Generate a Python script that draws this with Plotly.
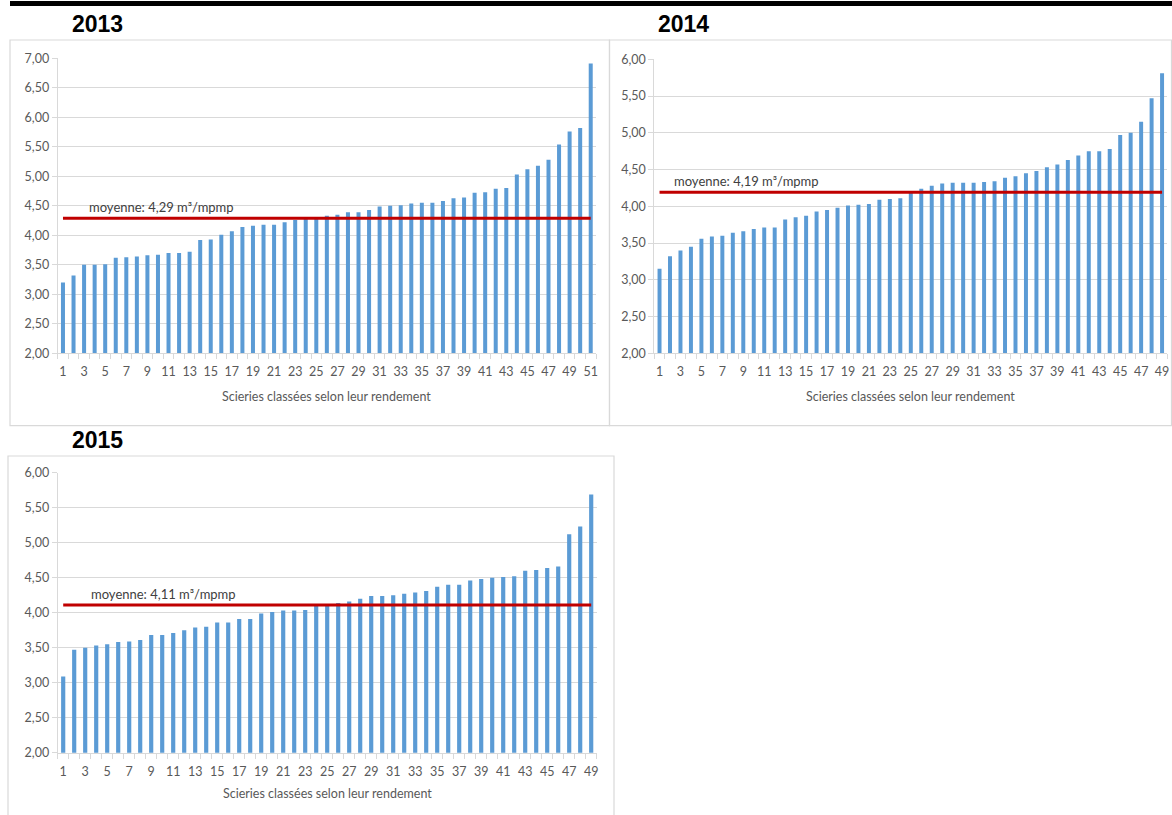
import plotly.graph_objects as go

# ---- data ----
years = ["2013", "2014", "2015"]
means = [4.29, 4.19, 4.11]
mean_labels = ["moyenne: 4,29 m³/mpmp", "moyenne: 4,19 m³/mpmp", "moyenne: 4,11 m³/mpmp"]

values_2013 = [3.20, 3.32, 3.50, 3.50, 3.51, 3.62, 3.63, 3.64, 3.66, 3.67,
               3.70, 3.70, 3.72, 3.92, 3.93, 4.01, 4.07, 4.14, 4.16, 4.18,
               4.18, 4.22, 4.26, 4.28, 4.29, 4.33, 4.35, 4.39, 4.39, 4.43,
               4.49, 4.50, 4.51, 4.54, 4.55, 4.55, 4.58, 4.63, 4.64, 4.72,
               4.73, 4.79, 4.80, 5.03, 5.12, 5.18, 5.28, 5.54, 5.76, 5.82,
               6.91]
values_2014 = [3.15, 3.32, 3.40, 3.45, 3.56, 3.59, 3.60, 3.64, 3.66, 3.69,
               3.71, 3.71, 3.82, 3.85, 3.87, 3.93, 3.95, 3.98, 4.01, 4.02,
               4.03, 4.09, 4.10, 4.11, 4.19, 4.24, 4.28, 4.31, 4.32, 4.32,
               4.32, 4.33, 4.34, 4.39, 4.41, 4.45, 4.48, 4.53, 4.57, 4.63,
               4.69, 4.75, 4.75, 4.78, 4.97, 5.00, 5.15, 5.47, 5.81]
values_2015 = [3.09, 3.47, 3.50, 3.53, 3.55, 3.58, 3.59, 3.61, 3.68, 3.68,
               3.71, 3.75, 3.79, 3.80, 3.86, 3.86, 3.91, 3.91, 3.99, 4.01,
               4.03, 4.03, 4.04, 4.10, 4.11, 4.14, 4.16, 4.20, 4.24, 4.24,
               4.25, 4.27, 4.29, 4.31, 4.37, 4.40, 4.40, 4.46, 4.48, 4.50,
               4.51, 4.52, 4.60, 4.61, 4.64, 4.66, 5.12, 5.23, 5.69]
series = [values_2013, values_2014, values_2015]
y_max = [7.0, 6.0, 6.0]
label_x = [3.25, 2.16, 3.35]
x_title = "Scieries classées selon leur rendement"

# ---- layout geometry (paper fractions) ----
W, H = 1172, 815
def px(x): return x / W
def py(y): return 1 - y / H

domains = [
    dict(x=[px(57.7), px(596.0)], y=[py(353.3), py(58.3)]),
    dict(x=[px(654.3), px(1167.3)], y=[py(353.3), py(59.3)]),
    dict(x=[px(57.7), px(596.7)], y=[py(752.7), py(472.7)]),
]
boxes = [
    (px(10), py(425.7), px(609.5), py(40)),
    (px(609.5), py(425.7), px(1171.5), py(40)),
    (px(8), py(830), px(614), py(456)),
]
title_pos = [(px(97), py(24)), (px(683), py(24)), (px(97), py(440))]
xtitle_y = [py(396), py(396), py(793)]

GRID = "#D9D9D9"
TXT = "#595959"
FONT = "Lato"

fig = go.Figure()
layout = dict(
    template="none",
    width=W, height=H, margin=dict(l=0, r=0, t=0, b=0, pad=0, autoexpand=False),
    paper_bgcolor="white", plot_bgcolor="white",
    separators=", ", showlegend=False, bargap=0.62,
    font=dict(family=FONT, size=12, color=TXT),
    shapes=[], annotations=[],
)

for i, vals in enumerate(series):
    n = len(vals)
    cats = list(range(1, n + 1))
    xa = "x" if i == 0 else f"x{i+1}"
    ya = "y" if i == 0 else f"y{i+1}"
    xkey = "xaxis" if i == 0 else f"xaxis{i+1}"
    ykey = "yaxis" if i == 0 else f"yaxis{i+1}"

    fig.add_trace(go.Bar(x=cats, y=vals, xaxis=xa, yaxis=ya,
                         marker=dict(color="#5B9BD5", line=dict(width=0)),
                         hoverinfo="x+y"))
    fig.add_trace(go.Scatter(x=[1, n], y=[means[i], means[i]], xaxis=xa, yaxis=ya,
                             mode="lines", line=dict(color="#C00000", width=3),
                             hoverinfo="skip"))

    layout[xkey] = dict(
        domain=domains[i]["x"], anchor=ya, range=[0.5, n + 0.5], automargin=False,
        tickmode="array", tickvals=list(range(1, n + 1, 2)),
        ticktext=[str(v) for v in range(1, n + 1, 2)],
        ticks="outside", ticklen=7, tickcolor="rgba(0,0,0,0)",
        showgrid=False, zeroline=False, showline=True, linecolor=GRID, linewidth=1,
        minor=dict(tickmode="array", tickvals=[k + 0.5 for k in range(0, n + 1)],
                   ticks="outside", ticklen=5, tickcolor=GRID, showgrid=False),
        tickfont=dict(family=FONT, size=12.5, color=TXT), fixedrange=True,
    )
    layout[ykey] = dict(
        domain=domains[i]["y"], anchor=xa, range=[2.0, y_max[i]], automargin=False,
        dtick=0.5, tick0=2.0, tickformat=".2f",
        showgrid=True, gridcolor=GRID, gridwidth=1, zeroline=False,
        showline=True, linecolor=GRID, linewidth=1,
        ticks="outside", ticklen=5, tickcolor=GRID,
        tickfont=dict(family=FONT, size=12.5, color=TXT), fixedrange=True,
    )

    # chart frame
    x0, y0, x1, y1 = boxes[i]
    layout["shapes"].append(dict(type="rect", xref="paper", yref="paper",
                                 x0=x0, y0=y0, x1=x1, y1=y1,
                                 line=dict(color=GRID, width=1.2), layer="below"))
    # year title
    tx, ty = title_pos[i]
    layout["annotations"].append(dict(
        text=f"<b>{years[i]}</b>", xref="paper", yref="paper", x=tx, y=ty,
        xanchor="center", yanchor="middle", showarrow=False,
        font=dict(family="Liberation Sans Narrow, Liberation Sans, Arial", size=23, color="black")))
    # axis title
    dx = domains[i]["x"]
    layout["annotations"].append(dict(
        text=x_title, xref="paper", yref="paper", x=(dx[0] + dx[1]) / 2, y=xtitle_y[i],
        xanchor="center", yanchor="middle", showarrow=False,
        font=dict(family=FONT, size=12.5, color=TXT)))
    # mean label
    layout["annotations"].append(dict(
        text=mean_labels[i], xref=xa, yref=ya, x=label_x[i], y=means[i],
        xanchor="left", yanchor="middle", yshift=11, showarrow=False,
        font=dict(family=FONT, size=13, color="#404040")))

# black bar at top
layout["shapes"].append(dict(type="rect", xref="paper", yref="paper",
                             x0=px(10), x1=1.0, y0=py(6), y1=py(1),
                             fillcolor="black", line=dict(width=0)))

fig.update_layout(**layout)
post = ("document.body.style.margin='0';document.body.style.overflow='hidden';"
        "var d=document.getElementById('{plot_id}');"
        "d.style.position='fixed';d.style.top='0px';d.style.left='0px';")
fig.write_html("out.html", config={"displayModeBar": False}, post_script=post)
